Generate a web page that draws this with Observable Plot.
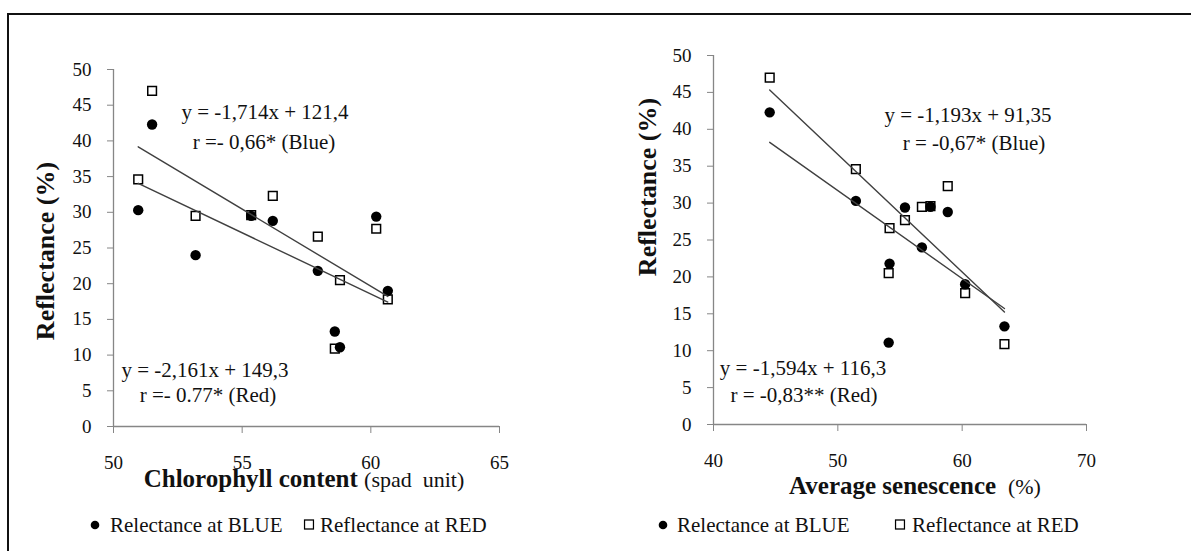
<!DOCTYPE html>
<html><head><meta charset="utf-8">
<script src="https://cdn.jsdelivr.net/npm/d3@7"></script>
<script src="https://cdn.jsdelivr.net/npm/@observablehq/plot@0.6"></script>
<style>
html,body{margin:0;padding:0;background:#fff;}
#root{position:relative;width:1191px;height:551px;overflow:hidden;font-family:"Liberation Serif","Times New Roman",serif;color:#111;}
.frame{position:absolute;left:7px;top:13px;width:1400px;height:800px;border-top:2px solid #111;border-left:2px solid #111;box-sizing:border-box;}
.panel{position:absolute;top:0;}
.t{position:absolute;white-space:pre;transform:translate(-50%,-50%);line-height:1;}
.eq{font-size:21px;}
.xt{font-size:25px;font-weight:bold;}
.xt span{font-weight:normal;font-size:22px;}
.yt{font-size:26px;font-weight:bold;transform:translate(-50%,-50%) rotate(-90deg);}
.lg{position:absolute;font-size:21px;white-space:pre;transform:translate(0,-50%);line-height:1;}
.mk{position:absolute;transform:translate(-50%,-50%);}
</style>
</head><body>
<div id="root"><div class="frame"></div></div>
<script>
// ---- data ----
const chlorophyll = [51.5, 50.96, 53.19, 55.35, 56.19, 57.94, 58.6, 58.8, 60.21, 60.66];
const senescence  = [44.52, 51.45, 56.76, 57.45, 58.84, 54.16, 63.4, 54.09, 55.4, 60.24];
const reflBlue    = [42.3, 30.3, 24.0, 29.5, 28.8, 21.8, 13.3, 11.1, 29.4, 19.0];
const reflRed     = [47.0, 34.6, 29.5, 29.6, 32.3, 26.6, 10.9, 20.5, 27.7, 17.8];
const yTicks      = [0, 5, 10, 15, 20, 25, 30, 35, 40, 45, 50];
const xTicksLeft  = [50, 55, 60, 65];
const xTicksRight = [40, 50, 60, 70];
// trendline coefficients [slope, intercept] for BLUE, RED
const leftSlopes      = [-1.714, -2.161];
const leftIntercepts  = [121.4, 149.3];
const rightSlopes     = [-1.193, -1.594];
const rightIntercepts = [91.35, 116.3];
const seriesNames = ["Relectance at BLUE", "Reflectance at RED"];
const leftEqBlue  = ["y = -1,714x + 121,4", "r =- 0,66* (Blue)"];
const leftEqRed   = ["y = -2,161x + 149,3", "r =- 0.77* (Red)"];
const rightEqBlue = ["y = -1,193x + 91,35", "r = -0,67* (Blue)"];
const rightEqRed  = ["y = -1,594x + 116,3", "r = -0,83** (Red)"];

const root = document.getElementById("root");

function panel(cfg) {
  const blueRows = cfg.xs.map((x, i) => ({x, y: reflBlue[i]}));
  const redRows  = cfg.xs.map((x, i) => ({x, y: reflRed[i]}));
  const [xmin, xmax] = d3.extent(cfg.xs);
  const fitRows = [];
  ["BLUE", "RED"].forEach((s, k) => {
    [xmin, xmax].forEach(x => fitRows.push({s, x, y: cfg.slopes[k] * x + cfg.intercepts[k]}));
  });
  const svg = Plot.plot({
    width: cfg.width, height: 551,
    marginLeft: cfg.ml, marginRight: cfg.mr, marginTop: cfg.mt, marginBottom: cfg.mb,
    x: {domain: cfg.xDomain},
    y: {domain: [0, 50]},
    style: {fontFamily: "Liberation Serif, Times New Roman, serif", fontSize: "19px", background: "transparent", overflow: "visible", color: "#111"},
    marks: [
      Plot.ruleX([cfg.xDomain[0]], {stroke: "#868686", strokeWidth: 1.3}),
      Plot.ruleY([0], {stroke: "#868686", strokeWidth: 1.3}),
      Plot.axisY({ticks: yTicks, tickSize: 6, tickPadding: 16, stroke: "#868686", fill: "#111", fontSize: 19, label: null}),
      Plot.axisX({ticks: cfg.xTicks, tickSize: 7, tickPadding: 22, stroke: "#868686", fill: "#111", fontSize: 19, label: null}),
      Plot.dot(redRows, {x: "x", y: "y", symbol: "square", r: 4.9, fill: "white", stroke: "black", strokeWidth: 1.5}),
      Plot.dot(blueRows, {x: "x", y: "y", r: 5.2, fill: "black"}),
      Plot.line(fitRows, {x: "x", y: "y", z: "s", stroke: "#404040", strokeWidth: 1.4})
    ]
  });
  const wrap = document.createElement("div");
  wrap.className = "panel";
  wrap.style.left = cfg.left + "px";
  wrap.appendChild(svg);
  root.appendChild(wrap);
}

panel({left: 0, width: 595, ml: 113, mr: 96, mt: 69, mb: 125, xDomain: [50, 65], xTicks: xTicksLeft,
       xs: chlorophyll, slopes: leftSlopes, intercepts: leftIntercepts});
panel({left: 595, width: 596, ml: 118, mr: 105, mt: 55, mb: 127, xDomain: [40, 70], xTicks: xTicksRight,
       xs: senescence, slopes: rightSlopes, intercepts: rightIntercepts});

function text(cls, str, x, y, html) {
  const d = document.createElement("div");
  d.className = cls;
  if (html) d.innerHTML = str; else d.textContent = str;
  d.style.left = x + "px"; d.style.top = y + "px";
  root.appendChild(d);
  return d;
}
// equations
text("t eq", leftEqBlue[0], 265, 112);  text("t eq", leftEqBlue[1], 264, 142);
text("t eq", leftEqRed[0], 205, 370);   text("t eq", leftEqRed[1], 208, 395);
text("t eq", rightEqBlue[0], 968, 115); text("t eq", rightEqBlue[1], 974, 143);
text("t eq", rightEqRed[0], 803, 368);  text("t eq", rightEqRed[1], 804, 395);
// axis titles
text("t xt", "Chlorophyll content <span>(spad&nbsp; unit)</span>", 304, 478, true);
text("t xt", "Average senescence <span>&nbsp;(%)</span>", 915, 485, true);
text("t yt", "Reflectance (%)", 46, 251);
text("t yt", "Reflectance (%)", 648, 187);
// legends
function legend(cx, tx, sx, sx2, y) {
  const c = document.createElement("div"); c.className = "mk";
  c.innerHTML = '<svg width="10" height="10"><circle cx="5" cy="5" r="4.3" fill="#000"/></svg>';
  c.style.left = cx + "px"; c.style.top = y + "px"; root.appendChild(c);
  text("lg", seriesNames[0], tx, y);
  const s = document.createElement("div"); s.className = "mk";
  s.innerHTML = '<svg width="11" height="11"><rect x="1" y="1" width="9" height="9" fill="#fff" stroke="#000" stroke-width="1.3"/></svg>';
  s.style.left = sx + "px"; s.style.top = y + "px"; root.appendChild(s);
  text("lg", seriesNames[1], sx2, y);
}
legend(95, 110, 309, 320, 525);
legend(663, 677, 900, 912, 525);
</script>
</body></html>
